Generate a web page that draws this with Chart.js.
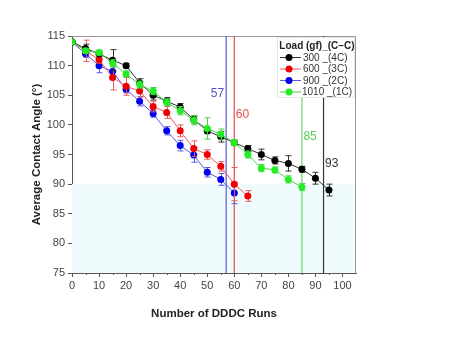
<!DOCTYPE html>
<html>
<head>
<meta charset="utf-8">
<script src="https://cdn.jsdelivr.net/npm/chart.js@4.4.1/dist/chart.umd.min.js"></script>
<style>
html, body { margin: 0; padding: 0; background: #fff; }
#wrap { width: 474px; height: 363px; }
</style>
</head>
<body>
<div id="wrap"><canvas id="myGraph"></canvas></div>
<script>
// runs (x) shared by every series, one value per 5 runs
const runs = [0, 5, 10, 15, 20, 25, 30, 35, 40, 45, 50, 55, 60, 65, 70, 75, 80, 85, 90, 95];

const angle300 = [114, 112.9, 112, 110.9, 110, 107.1, 105, 104, 103, 100.9, 99, 98, 97, 96, 95, 94, 93.5, 92.5, 91, 89];
const err300 = [0, 0.7, 0.5, 1.8, 0.4, 0.7, 0.8, 0.6, 0.6, 0.6, 0.5, 0.9, 0.4, 0.5, 0.9, 0.6, 1.3, 0.5, 1.0, 1.0];

const angle600 = [114, 112.5, 111, 108, 106.5, 105.7, 103.1, 102.1, 99, 96, 95, 93, 90, 88];
const err600 = [0, 1.8, 0.6, 2.1, 1.5, 1.0, 0.9, 1.0, 1.0, 1.3, 0.8, 0.8, 2.8, 0.9];

const angle900 = [114, 112, 110, 109, 106, 104, 101.9, 99, 96.5, 94.9, 92, 90.8, 88.5];
const err900 = [0, 0.6, 1.2, 0.8, 0.6, 0.8, 0.6, 0.7, 0.9, 1.2, 0.8, 1.0, 1.8];

const angle1010 = [114, 112.5, 112.2, 110.4, 108.6, 106.8, 105.7, 103.8, 102.4, 100.8, 99.4, 98.4, 97, 95, 92.7, 92.4, 90.8, 89.5];
const err1010 = [0, 0.4, 0.4, 0.6, 0.5, 0.6, 0.6, 0.6, 0.7, 0.8, 1.8, 0.9, 0.5, 0.6, 0.6, 0.5, 0.6, 0.6];

const seriesLabels = ["300 _(4C)", "600 _(3C)", "900 _(2C)", "1010 _(1C)"];
const legendTitle = "Load (gf)_(C\u2212C)";

// end-of-life run for each load, and the height of its label
const cutoffRuns = [93, 60, 57, 85];
const cutoffLabelY = [93.4, 101.8, 105.2, 98.0];

const xTicks = [0, 10, 20, 30, 40, 50, 60, 70, 80, 90, 100];
const yTicks = [75, 80, 85, 90, 95, 100, 105, 110, 115];
const shadeFrom = 75, shadeTo = 90;

const pointColors = ["#000000", "#ee0000", "#0000ee", "#22ee22"];
const lineColors = ["#333333", "#f05a5a", "#5a5ae6", "#44d444"];
const cutoffColors = ["#333333", "#e25050", "#5a5ad2", "#6ad86a"];
const labelColors = ["#333333", "#e25050", "#5050cc", "#55cc55"];

const allAngles = [angle300, angle600, angle900, angle1010];
const allErrs = [err300, err600, err900, err1010];
const drawOrder = [1, 2, 3, 0];

const datasets = allAngles.map((vals, k) => ({
   label: seriesLabels[k],
   data: vals.map((v, i) => ({ x: runs[i], y: v })),
   errors: allErrs[k],
   errColor: lineColors[k],
   borderColor: lineColors[k],
   borderWidth: 1,
   pointRadius: 3.5,
   pointBackgroundColor: pointColors[k],
   pointBorderColor: pointColors[k],
   pointBorderWidth: 0,
   tension: 0,
   order: drawOrder[k]
}));

cutoffRuns.forEach((r, k) => {
   datasets.push({
      label: "cut" + r,
      data: [{ x: r, y: 75 }, { x: r, y: 115 }],
      borderColor: cutoffColors[k],
      borderWidth: 1.2,
      pointRadius: 0,
      order: 10
   });
});

const extras = {
   id: "extras",
   beforeDatasetsDraw(chart) {
      const { ctx, chartArea: a, scales: { x, y } } = chart;
      ctx.save();
      ctx.fillStyle = "#effbfd";
      const t = y.getPixelForValue(shadeTo), b = y.getPixelForValue(shadeFrom);
      ctx.fillRect(a.left, t, a.right - a.left, b - t);
      // frame on top and right
      ctx.strokeStyle = "#999";
      ctx.lineWidth = 1;
      ctx.beginPath();
      ctx.moveTo(a.left, a.top + 0.5);
      ctx.lineTo(a.right - 0.5, a.top + 0.5);
      ctx.lineTo(a.right - 0.5, a.bottom);
      ctx.stroke();
      // minor ticks on x
      ctx.strokeStyle = "#555";
      ctx.beginPath();
      for (let v = 5; v < 105; v += 10) {
         const px = Math.round(x.getPixelForValue(v)) + 0.5;
         ctx.moveTo(px, a.bottom);
         ctx.lineTo(px, a.bottom + 2);
      }
      ctx.stroke();
      ctx.restore();
   },
   beforeDatasetDraw(chart, args) {
      const ds = chart.data.datasets[args.index];
      if (!ds.errors) return;
      const { ctx, scales: { x, y } } = chart;
      ctx.save();
      ctx.strokeStyle = ds.errColor;
      ctx.lineWidth = 1;
      ctx.beginPath();
      ds.data.forEach((p, i) => {
         const e = ds.errors[i];
         if (!e) return;
         const px = Math.round(x.getPixelForValue(p.x)) + 0.5;
         const top = y.getPixelForValue(p.y + e), bot = y.getPixelForValue(p.y - e);
         ctx.moveTo(px, top); ctx.lineTo(px, bot);
         ctx.moveTo(px - 3, top); ctx.lineTo(px + 3, top);
         ctx.moveTo(px - 3, bot); ctx.lineTo(px + 3, bot);
      });
      ctx.stroke();
      ctx.restore();
   },
   afterDatasetsDraw(chart) {
      const { ctx, chartArea: a, scales: { x, y } } = chart;
      ctx.save();
      // cutoff labels
      ctx.font = "12px 'Liberation Sans', Arial, sans-serif";
      ctx.textBaseline = "middle";
      cutoffRuns.forEach((r, k) => {
         const px = x.getPixelForValue(r);
         const py = y.getPixelForValue(cutoffLabelY[k]);
         ctx.fillStyle = labelColors[k];
         if (r === 57) { ctx.textAlign = "right"; ctx.fillText(String(r), px - 2, py); }
         else { ctx.textAlign = "left"; ctx.fillText(String(r), px + 1.5, py); }
      });
      // legend box
      const bx = 277, by = a.top + 1, bw = a.right - 1 - bx, bh = 61;
      ctx.fillStyle = "#fff";
      ctx.fillRect(bx, by, bw, bh);
      ctx.strokeStyle = "#e4e4e4";
      ctx.strokeRect(bx + 0.5, by + 0.5, bw - 1, bh - 1);
      ctx.fillStyle = "#222";
      ctx.textAlign = "center";
      ctx.font = "bold 10px 'Liberation Sans', Arial, sans-serif";
      ctx.fillText(legendTitle, bx + bw / 2 + 1, by + 9);
      ctx.font = "10px 'Liberation Sans', Arial, sans-serif";
      seriesLabels.forEach((lab, k) => {
         const ly = by + 20 + k * 11.5;
         ctx.strokeStyle = lineColors[k];
         ctx.beginPath();
         ctx.moveTo(bx + 3, ly + 0.5); ctx.lineTo(bx + 24, ly + 0.5);
         ctx.stroke();
         ctx.fillStyle = pointColors[k];
         ctx.beginPath(); ctx.arc(bx + 12, ly + 0.5, 3.5, 0, Math.PI * 2); ctx.fill();
         ctx.fillStyle = "#333";
         ctx.textAlign = "left";
         ctx.fillText(lab, k === 3 ? bx + 25 : bx + 26, ly + 1);
      });
      ctx.restore();
   }
};

const canvas = document.querySelector("#myGraph").getContext("2d");
let chart = new Chart(canvas, {
   type: "line",
   data: { datasets: datasets },
   plugins: [extras],
   options: {
      responsive: true,
      maintainAspectRatio: false,
      animation: false,
      layout: { padding: { left: 26, right: 118, top: 36, bottom: 38 } },
      plugins: {
         legend: { display: false },
         tooltip: { enabled: false }
      },
      scales: {
         x: {
            type: "linear",
            min: 0,
            max: 105,
            afterBuildTicks: (s) => { s.ticks = xTicks.map(v => ({ value: v })); },
            afterFit: (s) => { s.height = 52; },
            grid: { drawOnChartArea: false, drawTicks: true, tickLength: 4, color: "#555" },
            border: { display: true, color: "#555" },
            ticks: {
               color: "#444",
               padding: 2,
               maxRotation: 0,
               font: { family: "'Liberation Sans', Arial, sans-serif", size: 11 }
            },
            title: {
               display: true,
               text: "Number of DDDC Runs",
               color: "#222",
               font: { family: "'Liberation Sans', Arial, sans-serif", size: 11.5, weight: "bold" }
            }
         },
         y: {
            type: "linear",
            min: 75,
            max: 115,
            afterBuildTicks: (s) => { s.ticks = yTicks.map(v => ({ value: v })); },
            afterFit: (s) => { s.width = 46; },
            grid: { drawOnChartArea: false, drawTicks: true, tickLength: 4, color: "#555" },
            border: { display: true, color: "#555" },
            ticks: {
               color: "#444",
               padding: 3,
               font: { family: "'Liberation Sans', Arial, sans-serif", size: 11 }
            },
            title: {
               display: true,
               text: "Average Contact Angle (\u00b0)",
               color: "#222",
               font: { family: "'Liberation Sans', Arial, sans-serif", size: 11.5, weight: "bold" }
            }
         }
      }
   }
});
</script>
</body>
</html>
